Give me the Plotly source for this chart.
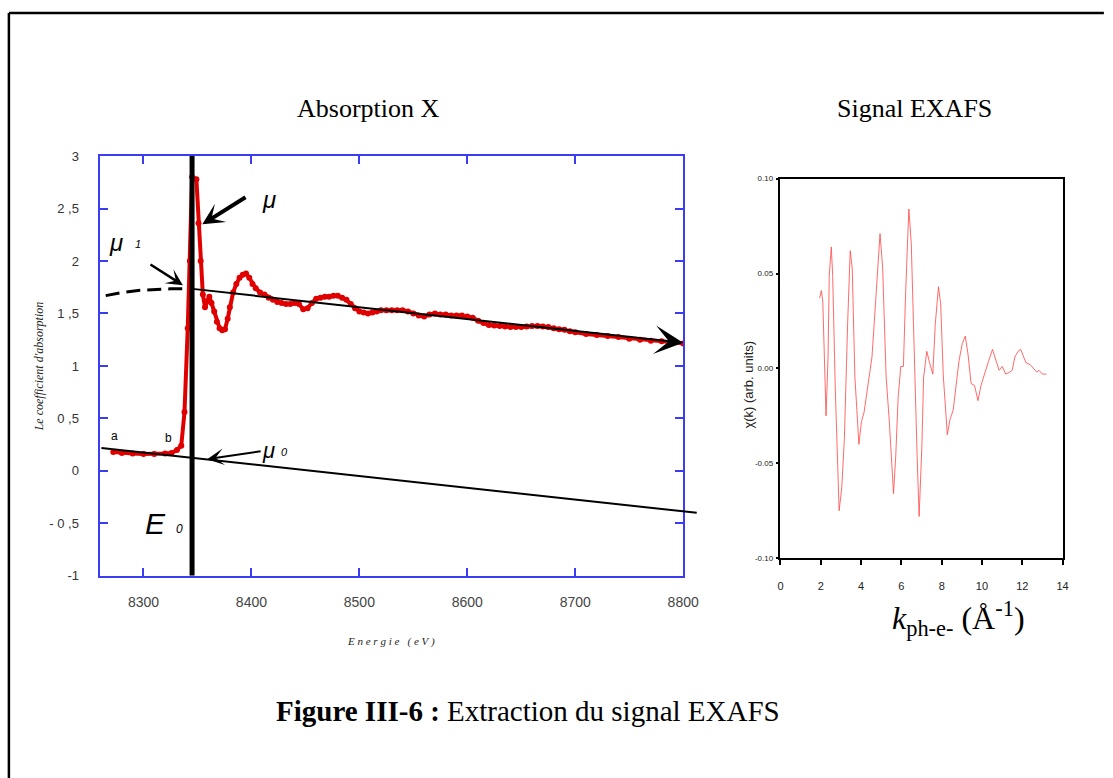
import plotly.graph_objects as go

W, H = 1113, 778

# ---------------- data: absorption spectrum ----------------
energy = [8272, 8280, 8290, 8300, 8310, 8320, 8326, 8331, 8335, 8338, 8341, 8343, 8345, 8349,
          8351, 8353, 8355, 8357, 8359, 8361, 8363, 8365.5, 8368, 8370.5, 8373, 8375.5, 8378,
          8380, 8383, 8386, 8389, 8392, 8395, 8398, 8401, 8404, 8408, 8412, 8416, 8420, 8424,
          8428, 8432, 8436, 8440, 8444, 8448, 8452, 8456, 8460, 8464, 8468, 8472, 8476, 8480,
          8484, 8488, 8492, 8496, 8500, 8504, 8508, 8512, 8516, 8520, 8525, 8530, 8535, 8540,
          8545, 8550, 8555, 8560, 8565, 8570, 8575, 8580, 8585, 8590, 8595, 8600, 8605, 8610,
          8615, 8620, 8625, 8630, 8635, 8640, 8645, 8650, 8655, 8660, 8665, 8670, 8675, 8680,
          8685, 8690, 8695, 8700, 8710, 8720, 8730, 8740, 8750, 8760, 8770, 8780, 8790, 8800]
mu = [0.18, 0.17, 0.165, 0.16, 0.16, 0.165, 0.17, 0.20, 0.24, 0.56, 1.36, 2.0, 2.8, 2.78,
      2.36, 2.0, 1.68, 1.56, 1.62, 1.66, 1.60, 1.52, 1.42, 1.36, 1.34, 1.35, 1.45,
      1.56, 1.70, 1.78, 1.84, 1.87, 1.88, 1.84, 1.78, 1.74, 1.70, 1.68, 1.65, 1.63, 1.61,
      1.60, 1.59, 1.59, 1.60, 1.59, 1.54, 1.55, 1.60, 1.64, 1.65, 1.66, 1.66, 1.67, 1.67,
      1.65, 1.63, 1.59, 1.55, 1.52, 1.51, 1.50, 1.51, 1.52, 1.53, 1.53, 1.53, 1.53, 1.53,
      1.52, 1.50, 1.48, 1.47, 1.49, 1.50, 1.49, 1.49, 1.48, 1.48, 1.48, 1.47, 1.46, 1.43,
      1.41, 1.39, 1.385, 1.38, 1.375, 1.37, 1.37, 1.37, 1.375, 1.38, 1.38, 1.375, 1.37, 1.36,
      1.35, 1.345, 1.33, 1.32, 1.305, 1.295, 1.285, 1.275, 1.26, 1.25, 1.24, 1.235, 1.225, 1.215]

E0 = 8345
# extrapolated pre-edge (dashed) mu1
mu1_dash_e = [8265, 8280, 8295, 8310, 8325, 8345]
mu1_dash_v = [1.67, 1.70, 1.72, 1.73, 1.735, 1.735]
# mu1 line (post-edge background)  [start, end]
mu1_line_e = [8345, 8800]
mu1_line_v = [1.735, 1.22]
# mu0 line (pre-edge background)  [start, end]
mu0_line_e = [8261, 8813]
mu0_line_v = [0.218, -0.40]

# pointing arrows: (tail E, tail mu, tip E, tip mu)
arrow_mu = (8395, 2.61, 8354.5, 2.35)
arrow_mu1 = (8306, 1.97, 8336.5, 1.77)
arrow_mu0 = (8409, 0.187, 8359, 0.112)

x_ticks = [8300, 8400, 8500, 8600, 8700, 8800]
x_ticktext = ["8300", "8400", "8500", "8600", "8700", "8800"]
y_ticks = [-1, -0.5, 0, 0.5, 1, 1.5, 2, 2.5, 3]
y_ticktext = ["-1", "- 0 ,5", "0", "0 ,5", "1", "1 ,5", "2", "2 ,5", "3"]

# ---------------- data: EXAFS signal ----------------
k = [1.94, 2.03, 2.10, 2.15, 2.26, 2.36, 2.42, 2.52, 2.59, 2.72,
     2.91, 3.04, 3.17, 3.33, 3.46, 3.56, 3.69, 3.89, 4.02, 4.15,
     4.26, 4.42, 4.54, 4.67, 4.80, 4.94, 5.07, 5.24, 5.40, 5.61,
     5.72, 5.84, 5.97, 6.10, 6.21, 6.37, 6.49, 6.65, 6.78, 6.88,
     7.02, 7.10, 7.18, 7.26, 7.40, 7.56, 7.68, 7.84, 7.95, 8.08,
     8.28, 8.41, 8.57, 8.73, 8.86, 9.02, 9.17, 9.30, 9.46, 9.63,
     9.80, 9.95, 10.11, 10.33, 10.52, 10.68, 10.85, 11.01, 11.17, 11.37,
     11.50, 11.63, 11.79, 11.92, 12.06, 12.18, 12.39, 12.55, 12.72, 12.83,
     13.0, 13.2]
chi = [0.037, 0.041, 0.035, 0.015, -0.025, 0.006, 0.049, 0.064, 0.049, -0.011,
       -0.075, -0.063, -0.037, 0.023, 0.062, 0.053, -0.004, -0.040, -0.028, -0.023,
       -0.015, -0.003, 0.006, 0.027, 0.049, 0.071, 0.053, -0.004, -0.028, -0.066,
       -0.046, -0.015, 0.001, 0.001, 0.040, 0.084, 0.066, -0.003, -0.046, -0.078,
       -0.040, -0.005, 0.003, 0.009, 0.003, -0.003, 0.023, 0.043, 0.034, -0.004,
       -0.035, -0.027, -0.022, -0.008, 0.004, 0.013, 0.017, 0.008, -0.008, -0.009,
       -0.017, -0.009, -0.003, 0.004, 0.010, 0.004, -0.001, 0.001, -0.003, -0.002,
       -0.001, 0.006, 0.009, 0.010, 0.006, 0.003, 0.002, 0.000, -0.002, -0.001,
       -0.003, -0.003]
k_ticks = [0, 2, 4, 6, 8, 10, 12, 14]
chi_ticks = [-0.10, -0.05, 0.0, 0.05, 0.10]
chi_ticktext = ["-0.10", "-0.05", "0.00", "0.05", "0.10"]

# ---------------- figure ----------------
BLUE = "#3c3cf5"
SANS = "Liberation Sans, Arial, sans-serif"
SERIF = "Liberation Serif, Times New Roman, serif"

fig = go.Figure()

fig.add_trace(go.Scatter(x=mu1_dash_e, y=mu1_dash_v, mode="lines",
                         line=dict(color="black", width=3, dash="14px,7px"),
                         xaxis="x", yaxis="y", showlegend=False, hoverinfo="skip"))
fig.add_trace(go.Scatter(x=energy, y=mu, mode="lines+markers",
                         line=dict(color="#e00000", width=4),
                         marker=dict(color="#e00000", size=6),
                         xaxis="x", yaxis="y", showlegend=False))
fig.add_trace(go.Scatter(x=[E0, E0], y=[-1, 3], mode="lines",
                         line=dict(color="black", width=5),
                         xaxis="x", yaxis="y", showlegend=False, hoverinfo="skip"))

fig.add_trace(go.Scatter(x=k, y=chi, mode="lines",
                         line=dict(color="rgba(255,80,80,0.85)", width=1),
                         xaxis="x2", yaxis="y2", showlegend=False))


def px_x(p):
    return p / W


def px_y(p):
    return 1 - p / H


annotations = []
ARROW_BASE = dict(xref="x", yref="y", axref="x", ayref="y", text="", showarrow=True,
                  arrowcolor="black", font=dict(size=1), borderpad=0)

# background lines and arrows (annotation arrows are not clipped by the axes)
annotations.append(dict(ARROW_BASE, x=mu1_line_e[1], y=mu1_line_v[1],
                        ax=mu1_line_e[0], ay=mu1_line_v[0],
                        arrowhead=3, arrowsize=2.4, arrowwidth=2))
annotations.append(dict(ARROW_BASE, x=mu0_line_e[0], y=mu0_line_v[0],
                        ax=mu0_line_e[1], ay=mu0_line_v[1],
                        arrowhead=0, arrowwidth=2))
for (te, tv, he, hv), w, s in [(arrow_mu, 4, 0.9), (arrow_mu1, 2.5, 1.1), (arrow_mu0, 2, 1.4)]:
    annotations.append(dict(ARROW_BASE, x=he, y=hv, ax=te, ay=tv,
                            arrowhead=3, arrowsize=s, arrowwidth=w))

# labels inside the absorption plot
def lab(x, y, t, size, italic=True, family=SANS):
    txt = f"<i>{t}</i>" if italic else t
    annotations.append(dict(xref="x", yref="y", x=x, y=y, text=txt, showarrow=False,
                            font=dict(family=family, size=size, color="black"),
                            xanchor="center", yanchor="middle"))

lab(8416.6, 2.59, "μ", 24)
lab(8274.6, 2.18, "μ", 24)
lab(8294.6, 2.16, "1", 11)
lab(8415.7, 0.196, "μ", 22)
lab(8431, 0.18, "0", 11)
lab(8273, 0.33, "a", 12, italic=False)
lab(8323, 0.31, "b", 12, italic=False)
lab(8311, -0.505, "E", 30)
lab(8333.8, -0.55, "0", 12)

# titles and axis titles
annotations += [
    dict(xref="paper", yref="paper", x=px_x(372), y=px_y(103), text="Absorption X",
         showarrow=False, font=dict(family=SERIF, size=26, color="black"),
         xanchor="center", yanchor="middle"),
    dict(xref="paper", yref="paper", x=px_x(927), y=px_y(103), text="Signal EXAFS",
         showarrow=False, font=dict(family=SERIF, size=26, color="black"),
         xanchor="center", yanchor="middle"),
    dict(xref="paper", yref="paper", x=px_x(37), y=px_y(366),
         text="<i>Le coefficient d'absorption</i>", textangle=-90,
         showarrow=False, font=dict(family=SERIF, size=12, color="#222"),
         xanchor="center", yanchor="middle"),
    dict(xref="paper", yref="paper", x=px_x(395), y=px_y(647),
         text="<i>E n e r g i e   ( e V )</i>",
         showarrow=False, font=dict(family=SERIF, size=11, color="#222"),
         xanchor="center", yanchor="middle"),
    dict(xref="paper", yref="paper", x=px_x(759), y=px_y(385),
         text="χ(k) (arb. units)", textangle=-90,
         showarrow=False, font=dict(family=SANS, size=13, color="#222"),
         xanchor="center", yanchor="middle"),
    dict(xref="paper", yref="paper", x=px_x(972), y=px_y(624),
         text="<i>k</i><sub>ph-e-</sub> (Å<sup>-1</sup>)",
         showarrow=False, font=dict(family=SERIF, size=32, color="black"),
         xanchor="center", yanchor="middle"),
    dict(xref="paper", yref="paper", x=px_x(534), y=px_y(718),
         text="<b>Figure III-6 :</b> Extraction du signal EXAFS",
         showarrow=False, font=dict(family=SERIF, size=29, color="black"),
         xanchor="center", yanchor="middle"),
]

shapes = [
    dict(type="line", xref="paper", yref="paper", x0=px_x(6), x1=px_x(6),
         y0=px_y(6), y1=px_y(790), line=dict(color="black", width=2.5)),
    dict(type="line", xref="paper", yref="paper", x0=px_x(6), x1=px_x(1120),
         y0=px_y(6), y1=px_y(6), line=dict(color="black", width=2.5)),
]

fig.update_layout(
    width=W, height=H, autosize=False,
    margin=dict(l=0, r=0, t=0, b=0),
    paper_bgcolor="white", plot_bgcolor="white",
    showlegend=False,
    annotations=annotations, shapes=shapes,
    xaxis=dict(domain=[px_x(99), px_x(692)], range=[8260, 8800], anchor="y",
               showline=True, linecolor=BLUE, linewidth=1.5, mirror="ticks",
               ticks="inside", ticklen=8, tickcolor=BLUE, tickwidth=1.5,
               tickvals=x_ticks, ticktext=x_ticktext, ticklabelstandoff=13,
               tickfont=dict(family=SANS, size=14, color="#444"),
               showgrid=False, zeroline=False, fixedrange=True),
    yaxis=dict(domain=[px_y(580), px_y(152)], range=[-1, 3], anchor="x",
               showline=True, linecolor=BLUE, linewidth=1.5, mirror="ticks",
               ticks="inside", ticklen=8, tickcolor=BLUE, tickwidth=1.5,
               tickvals=y_ticks, ticktext=y_ticktext, ticklabelstandoff=17,
               tickfont=dict(family=SANS, size=13, color="#333"),
               showgrid=False, zeroline=False, fixedrange=True),
    xaxis2=dict(domain=[px_x(791), px_x(1078)], range=[0, 14], anchor="y2",
                showline=True, linecolor="black", linewidth=1.5, mirror=True,
                ticks="outside", ticklen=5, tickcolor="black", tickwidth=1.5,
                tickvals=k_ticks, ticklabelstandoff=12,
                tickfont=dict(family=SANS, size=11, color="#222"),
                showgrid=False, zeroline=False, fixedrange=True),
    yaxis2=dict(domain=[px_y(562), px_y(175)], range=[-0.10, 0.10], anchor="x2",
                showline=True, linecolor="black", linewidth=1.5, mirror=True,
                ticks="outside", ticklen=3, tickcolor="black", tickwidth=1.5,
                tickvals=chi_ticks, ticktext=chi_ticktext, ticklabelstandoff=1,
                tickfont=dict(family=SANS, size=8, color="#222"),
                showgrid=False, zeroline=False, fixedrange=True),
)

fig.write_html("out.html", config={"displayModeBar": False})
